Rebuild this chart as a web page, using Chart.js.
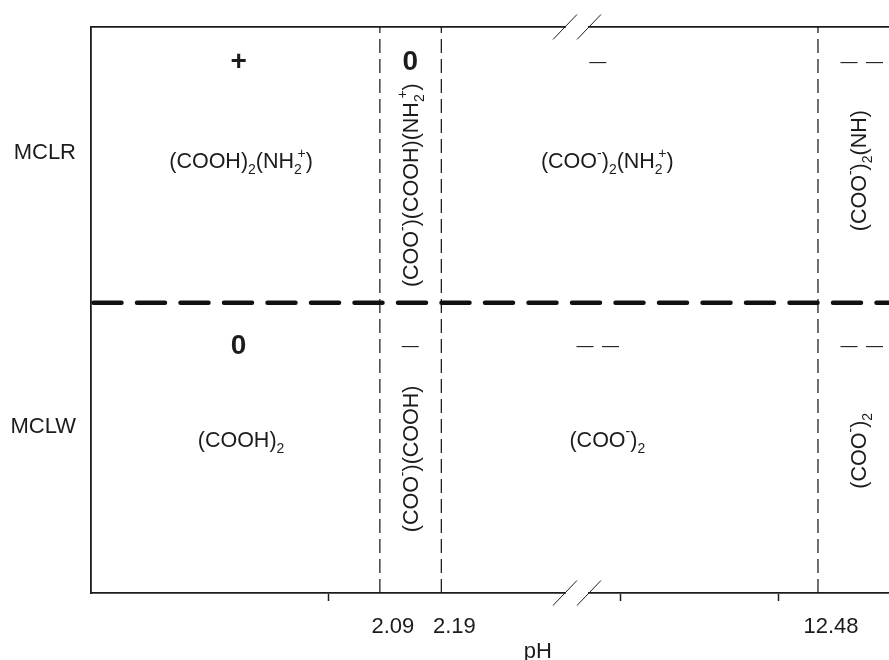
<!DOCTYPE html>
<html>
<head>
<meta charset="utf-8">
<script src="https://cdn.jsdelivr.net/npm/chart.js@4.4.1/dist/chart.umd.min.js"></script>
<style>
  html, body { margin: 0; padding: 0; background: #fff; }
  #chart { display: block; }
</style>
</head>
<body>
<canvas id="chart" width="889" height="660"></canvas>
<script>
const FONT = '"Liberation Sans", Arial, Helvetica, sans-serif';
const INK = '#1c1c1c';

// rows (y axis)
const species = ['MCLR', 'MCLW'];
const speciesPos = [1.516, 0.572];
const rowBoundary = 1;

// x axis is a broken pH axis, positions in axis units (0-100)
const pKaLabels = ['2.09', '2.19', '12.48'];
const pKaPos = [36.2, 43.9, 91.1];
const tickPos = [29.7, 66.4, 86.2];
const breakPos = 60.9;
const axisTitle = 'pH';

// charge and dominant form in each pH region
const chargesMCLR = ['+', '0', '—', '—\u2002—'];
const formsMCLR = ['(COOH)_2(NH_2^+)', '(COO^-)(COOH)(NH_2^+)', '(COO^-)_2(NH_2^+)', '(COO^-)_2(NH)'];
const chargesMCLW = ['0', '—', '—\u2002—', '—\u2002—'];
const formsMCLW = ['(COOH)_2', '(COO^-)(COOH)', '(COO^-)_2', '(COO^-)_2'];

// where the text sits inside each region / row
const regionX = [18.8, 40.0, 64.7, 96.1];
const chargeX = [18.5, 40.0, 63.5, 96.6];
const rowText = [
  { charge: 1.83, label: 1.49, rotated: [1.405, 1.455] },
  { charge: 0.85, label: 0.531, rotated: [0.462, 0.49] },
];

const X_MAX = 100;
const Y_MAX = 1.95;

// draw text with _x subscripts and ^x superscripts, centred on cx, cy
function drawRich(ctx, str, cx, cy, size) {
  const segs = [];
  for (let i = 0; i < str.length; i++) {
    const c = str[i];
    if (c === '_' || c === '^') {
      segs.push({ t: str[i + 1], k: c });
      i++;
    } else if (segs.length && segs[segs.length - 1].k === 'n') {
      segs[segs.length - 1].t += c;
    } else {
      segs.push({ t: c, k: 'n' });
    }
  }
  const small = size * 0.65;
  let x = 0;
  let prev = null;
  const placed = [];
  for (const s of segs) {
    const f = s.k === 'n' ? size : small;
    ctx.font = `${f}px ${FONT}`;
    const w = ctx.measureText(s.t).width;
    let sx = x;
    if (s.k === '^' && prev && prev.k === '_') {
      sx = prev.x + prev.w * 0.45;
      x = Math.max(x, sx + w);
    } else {
      x += w;
    }
    const p = { t: s.t, k: s.k, x: sx, w, f };
    placed.push(p);
    prev = p;
  }
  const start = cx - x / 2;
  const base = cy + size * 0.36;
  ctx.textAlign = 'left';
  ctx.textBaseline = 'alphabetic';
  for (const p of placed) {
    ctx.font = `${p.f}px ${FONT}`;
    const dy = p.k === '_' ? size * 0.28 : p.k === '^' ? -size * 0.5 : 0;
    ctx.fillText(p.t, start + p.x, base + dy);
  }
}

const regionPlugin = {
  id: 'regions',
  afterDraw(chart) {
    const { ctx, scales, chartArea } = chart;
    const xs = scales.x, ys = scales.y;
    const edges = [0, ...pKaPos, X_MAX];
    const rows = [
      { charges: chargesMCLR, forms: formsMCLR },
      { charges: chargesMCLW, forms: formsMCLW },
    ];
    ctx.save();
    ctx.fillStyle = INK;
    rows.forEach((row, r) => {
      let nIdx = 0;
      row.forms.forEach((form, i) => {
        const px = xs.getPixelForValue(regionX[i]);
        const narrow = edges[i + 1] - edges[i] < 15;
        // charge
        const ch = row.charges[i];
        ctx.textAlign = 'center';
        ctx.textBaseline = 'middle';
        ctx.font = (ch === '+' || ch === '0') ? `bold 28px ${FONT}` : `17px ${FONT}`;
        ctx.fillText(ch, xs.getPixelForValue(chargeX[i]), ys.getPixelForValue(rowText[r].charge));
        // form
        if (narrow) {
          ctx.save();
          ctx.translate(px, ys.getPixelForValue(rowText[r].rotated[nIdx++]));
          ctx.rotate(-Math.PI / 2);
          drawRich(ctx, form, 0, 0, 21.5);
          ctx.restore();
        } else {
          drawRich(ctx, form, px, ys.getPixelForValue(rowText[r].label), 21.5);
        }
      });
    });

    // axis title
    ctx.fillStyle = INK;
    ctx.font = `22px ${FONT}`;
    ctx.textAlign = 'center';
    ctx.textBaseline = 'middle';
    ctx.fillText(axisTitle, xs.getPixelForValue(56.0), chartArea.bottom + 59);

    // axis break on top and bottom frame lines
    const bx = xs.getPixelForValue(breakPos);
    const half = 12;
    [chartArea.top, chartArea.bottom].forEach(ly => {
      ctx.fillStyle = '#fff';
      ctx.fillRect(bx - half + 1, ly - 3, 2 * half - 2, 6);
      ctx.strokeStyle = INK;
      ctx.lineWidth = 1;
      [bx - half, bx + half].forEach(sx => {
        ctx.beginPath();
        ctx.moveTo(sx - 12, ly + 12.5);
        ctx.lineTo(sx + 12, ly - 12.5);
        ctx.stroke();
      });
    });
    ctx.restore();
  },
};

const datasets = pKaPos.map(p => ({
  data: [{ x: p, y: 0 }, { x: p, y: Y_MAX }],
  showLine: true,
  borderColor: '#111',
  borderWidth: 1.2,
  borderDash: [14, 6],
  pointRadius: 0,
}));
datasets.push({
  data: [{ x: 0, y: rowBoundary }, { x: X_MAX, y: rowBoundary }],
  showLine: true,
  borderColor: '#111',
  borderWidth: 4.5,
  borderDash: [28, 15.5],
  borderDashOffset: -2.5,
  borderCapStyle: 'round',
  pointRadius: 0,
});

new Chart(document.getElementById('chart'), {
  type: 'scatter',
  data: { datasets },
  plugins: [regionPlugin],
  options: {
    responsive: false,
    animation: false,
    layout: { padding: 0 },
    plugins: { legend: { display: false }, tooltip: { enabled: false } },
    scales: {
      x: {
        type: 'linear',
        position: 'bottom',
        min: 0,
        max: X_MAX,
        afterBuildTicks: axis => {
          axis.ticks = [...tickPos, ...pKaPos].map(v => ({ value: v }));
        },
        afterFit: axis => { axis.height = 67; },
        border: { display: true, color: INK, width: 1.8 },
        grid: {
          drawOnChartArea: false,
          drawTicks: true,
          tickLength: 8,
          tickWidth: 1.5,
          tickColor: ctx => (pKaPos.includes(ctx.tick && ctx.tick.value) ? 'rgba(0,0,0,0)' : INK),
        },
        ticks: {
          autoSkip: false,
          maxRotation: 0,
          padding: 13,
          labelOffset: 13,
          color: INK,
          font: { family: FONT, size: 22 },
          callback: value => {
            const i = pKaPos.indexOf(value);
            return i >= 0 ? pKaLabels[i] : '';
          },
        },
      },
      xTop: {
        type: 'linear',
        position: 'top',
        min: 0,
        max: X_MAX,
        afterFit: axis => { axis.height = 27; },
        border: { display: true, color: INK, width: 1.8 },
        grid: { display: false },
        ticks: { display: false },
      },
      y: {
        type: 'linear',
        min: 0,
        max: Y_MAX,
        afterBuildTicks: axis => {
          axis.ticks = speciesPos.map(v => ({ value: v }));
        },
        afterFit: axis => { axis.width = 91; },
        border: { display: true, color: INK, width: 1.8 },
        grid: { display: false },
        ticks: {
          padding: 7,
          color: INK,
          font: { family: FONT, size: 22 },
          callback: (value, index) => species[index],
        },
      },
    },
  },
});
</script>
</body>
</html>
